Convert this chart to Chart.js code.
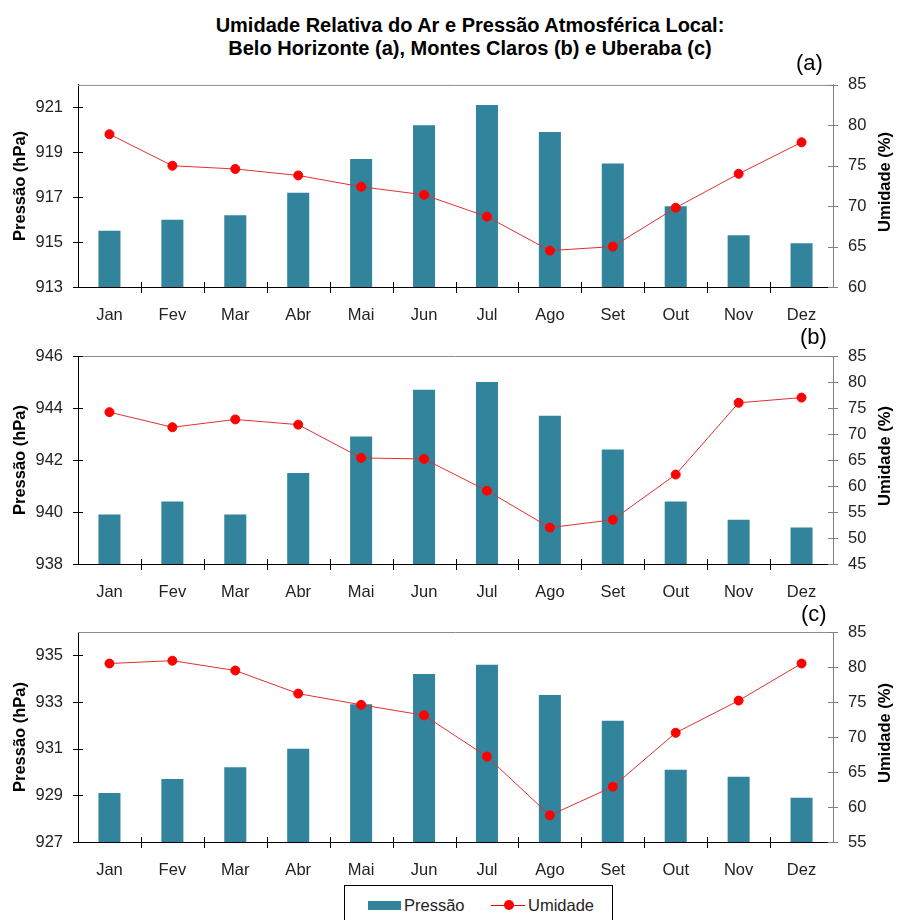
<!DOCTYPE html>
<html>
<head>
<meta charset="utf-8">
<script src="https://cdn.jsdelivr.net/npm/chart.js@4.4.0/dist/chart.umd.min.js"></script>
<style>
  body { margin: 0; background: #fff; font-family: 'Liberation Sans', Arial, sans-serif; }
  #wrap { position: relative; width: 897px; height: 920px; overflow: hidden; background: #fff; }
  canvas { position: absolute; left: 0; }
  .title { position: absolute; left: 0; width: 940px; text-align: center; font-weight: bold; font-size: 20px; color: #000; }
  .panel { position: absolute; font-size: 22px; color: #000; z-index: 2; }
  .legend { position: absolute; left: 344px; top: 885px; width: 267px; height: 45px; border: 1px solid #000; }
  .lg { position: absolute; }
  .lgtext { position: absolute; font-size: 16.5px; color: #222; line-height: 20px; }
</style>
</head>
<body>
<div id="wrap">
  <div class="title" style="top:14px">Umidade Relativa do Ar e Pressão Atmosférica Local:</div>
  <div class="title" style="top:37px">Belo Horizonte (a), Montes Claros (b) e Uberaba (c)</div>

  <canvas id="chartA" width="897" height="270" style="top:60px"></canvas>
  <canvas id="chartB" width="897" height="270" style="top:330px"></canvas>
  <canvas id="chartC" width="897" height="280" style="top:600px"></canvas>

  <div class="panel" style="left:796px; top:50px">(a)</div>
  <div class="panel" style="left:800px; top:324px">(b)</div>
  <div class="panel" style="left:801px; top:601px">(c)</div>

  <div class="legend"></div>
  <div class="lg" style="left:368px; top:901px; width:33px; height:9px; background:#31849B"></div>
  <div class="lgtext" style="left:404px; top:895px">Pressão</div>
  <div class="lg" style="left:491px; top:905px; width:34px; height:1px; background:#e00000"></div>
  <div class="lg" style="left:504px; top:900px; width:10px; height:10px; border-radius:50%; background:#ff0000"></div>
  <div class="lgtext" style="left:528px; top:895px">Umidade</div>
</div>

<script>
const meses = ['Jan', 'Fev', 'Mar', 'Abr', 'Mai', 'Jun', 'Jul', 'Ago', 'Set', 'Out', 'Nov', 'Dez']

// (a) Belo Horizonte
const pressaoA = [915.5, 916.0, 916.2, 917.2, 918.7, 920.2, 921.1, 919.9, 918.5, 916.6, 915.3, 914.95]
const umidadeA = [78.9, 75.0, 74.6, 73.8, 72.4, 71.4, 68.7, 64.5, 65.0, 69.8, 74.0, 77.9]
const ticksPressaoA = [913, 915, 917, 919, 921]
const ticksUmidadeA = [60, 65, 70, 75, 80, 85]

// (b) Montes Claros
const pressaoB = [939.9, 940.4, 939.9, 941.5, 942.9, 944.7, 945.0, 943.7, 942.4, 940.4, 939.7, 939.4]
const umidadeB = [74.2, 71.3, 72.8, 71.8, 65.4, 65.2, 59.1, 52.0, 53.5, 62.2, 76.0, 77.0]
const ticksPressaoB = [938, 940, 942, 944, 946]
const ticksUmidadeB = [45, 50, 55, 60, 65, 70, 75, 80, 85]

// (c) Uberaba
const pressaoC = [929.1, 929.7, 930.2, 931.0, 932.9, 934.2, 934.6, 933.3, 932.2, 930.1, 929.8, 928.9]
const umidadeC = [80.5, 80.9, 79.5, 76.2, 74.6, 73.1, 67.2, 58.8, 62.9, 70.6, 75.2, 80.5]
const ticksPressaoC = [927, 929, 931, 933, 935]
const ticksUmidadeC = [55, 60, 65, 70, 75, 80, 85]

Chart.defaults.font.family = "'Liberation Sans', Arial, sans-serif"
Chart.defaults.color = '#222'

// moldura: linha de cima, marcas dos eixos e titulos dos eixos
const moldura = {
    id: 'moldura',
    afterDraw(chart) {
        const ctx = chart.ctx
        const area = chart.chartArea
        const x = chart.scales.x
        const yP = chart.scales.yP
        const yU = chart.scales.yU
        ctx.save()
        ctx.lineWidth = 1

        ctx.strokeStyle = '#8c8c8c'
        ctx.beginPath()
        ctx.moveTo(area.left, area.top + 0.5)
        ctx.lineTo(area.right, area.top + 0.5)
        ctx.stroke()

        ctx.strokeStyle = '#000'
        ctx.beginPath()
        for (let i = 1; i < meses.length; i++) {
            const px = Math.round((x.getPixelForValue(i - 1) + x.getPixelForValue(i)) / 2) + 0.5
            ctx.moveTo(px, area.bottom - 5)
            ctx.lineTo(px, area.bottom + 6)
        }
        yP.ticks.forEach(t => {
            const py = Math.round(yP.getPixelForValue(t.value)) + 0.5
            ctx.moveTo(area.left - 5, py)
            ctx.lineTo(area.left + 5, py)
        })
        ctx.stroke()

        ctx.strokeStyle = '#808080'
        ctx.beginPath()
        yU.ticks.forEach(t => {
            const py = Math.round(yU.getPixelForValue(t.value)) + 0.5
            ctx.moveTo(area.right - 5, py)
            ctx.lineTo(area.right + 5, py)
        })
        ctx.stroke()

        ctx.fillStyle = '#000'
        ctx.font = "bold 16.5px 'Liberation Sans', Arial, sans-serif"
        ctx.textAlign = 'center'
        ctx.textBaseline = 'middle'
        const cy = (area.top + area.bottom) / 2
        ctx.translate(20, cy)
        ctx.rotate(-Math.PI / 2)
        ctx.fillText('Pressão (hPa)', 0, 0)
        ctx.rotate(Math.PI / 2)
        ctx.translate(865, -4)
        ctx.rotate(-Math.PI / 2)
        ctx.fillText('Umidade (%)', 0, 0)
        ctx.restore()
    }
}

function fixTicks(list) {
    return scale => { scale.ticks = list.map(v => ({ value: v })) }
}

function painel(id, pressao, umidade, ticksP, minP, maxP, ticksU, minU, maxU, padTop, alturaX) {
    const canvas = document.getElementById(id)
    return new Chart(canvas, {
        type: 'bar',
        data: {
            labels: meses,
            datasets: [{
                type: 'bar',
                label: 'Pressão',
                data: pressao,
                yAxisID: 'yP',
                backgroundColor: '#31849B',
                barPercentage: 0.35,
                categoryPercentage: 1.0,
                order: 2
            }, {
                type: 'line',
                label: 'Umidade',
                data: umidade,
                yAxisID: 'yU',
                borderColor: '#e03030',
                borderWidth: 1,
                pointBackgroundColor: '#ff0000',
                pointBorderColor: '#ff0000',
                pointRadius: 4.5,
                tension: 0,
                order: 1
            }]
        },
        options: {
            responsive: false,
            animation: false,
            devicePixelRatio: 1,
            layout: { padding: { top: padTop, left: 0, right: 0, bottom: 0 } },
            plugins: { legend: { display: false }, tooltip: { enabled: false } },
            scales: {
                x: {
                    offset: true,
                    grid: { display: true, drawOnChartArea: false, drawTicks: false },
                    border: { color: '#000', width: 1 },
                    ticks: { font: { size: 16.5 }, padding: 19, color: '#222' },
                    afterFit: s => { s.height = alturaX }
                },
                yP: {
                    position: 'left',
                    min: minP,
                    max: maxP,
                    grid: { display: true, drawOnChartArea: false, drawTicks: false },
                    border: { color: '#000', width: 1 },
                    ticks: { font: { size: 16.5 }, padding: 15, color: '#222' },
                    afterBuildTicks: fixTicks(ticksP),
                    afterFit: s => { s.width = 78 }
                },
                yU: {
                    position: 'right',
                    min: minU,
                    max: maxU,
                    grid: { display: true, drawOnChartArea: false, drawTicks: false },
                    border: { color: '#808080', width: 1 },
                    ticks: { font: { size: 16.5 }, padding: 15, color: '#222' },
                    afterBuildTicks: fixTicks(ticksU),
                    afterFit: s => { s.width = 64 }
                }
            }
        },
        plugins: [moldura]
    })
}

painel('chartA', pressaoA, umidadeA, ticksPressaoA, 913, 922, ticksUmidadeA, 60, 85, 24, 43)
painel('chartB', pressaoB, umidadeB, ticksPressaoB, 938, 946, ticksUmidadeB, 45, 85, 26, 36)
painel('chartC', pressaoC, umidadeC, ticksPressaoC, 927, 936, ticksUmidadeC, 55, 85, 32, 38)
</script>
</body>
</html>
